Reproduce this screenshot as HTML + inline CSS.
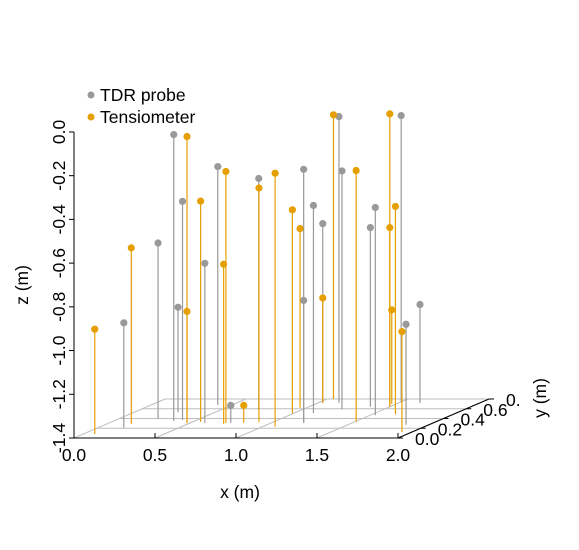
<!DOCTYPE html>
<html><head><meta charset="utf-8"><style>
html,body{margin:0;padding:0;background:#fff;}
svg{display:block;font-family:"Liberation Sans",Arial,sans-serif;}
</style></head><body>
<svg id="chart" width="579" height="550" viewBox="0 0 579 550">
<g id="grid"></g>
<g id="axes"></g>
<g id="marks"></g>
<g>
<circle cx="91" cy="95" r="3.5" fill="#999999"/>
<text x="100" y="101" font-size="17.5">TDR probe</text>
<circle cx="91" cy="117" r="3.5" fill="#E69F00"/>
<text x="100" y="123" font-size="17.5">Tensiometer</text>
</g>
<text x="240" y="498" font-size="17.5" text-anchor="middle">x (m)</text>
<text transform="translate(28,285) rotate(-90)" font-size="17.5" text-anchor="middle">z (m)</text>
<text transform="translate(546,398) rotate(-90)" font-size="17.5" text-anchor="middle">y (m)</text>
</svg>
<script>
const xTicks = [0, 0.5, 1, 1.5, 2];
const xTickLabels = ["0.0", "0.5", "1.0", "1.5", "2.0"];
const yTicks = [0, 0.2, 0.4, 0.6, 0.8];
const yTickLabels = ["0.0", "0.2", "0.4", "0.6", "0."];
const zTicks = [0, -0.2, -0.4, -0.6, -0.8, -1.0, -1.2, -1.4];
const zTickLabels = ["0.0", "-0.2", "-0.4", "-0.6", "-0.8", "-1.0", "-1.2", "-1.4"];
const tdrX = [0.16, 0.245, 0.37, 0.41, 0.27, 0.59, 0.41, 0.75, 0.74, 1.20, 1.20, 1.12, 1.03, 1.13, 1.24, 1.38, 1.53, 1.50, 1.63, 1.86];
const tdrY = [0.21, 0.39, 0.35, 0.37, 0.53, 0.31, 0.68, 0.31, 0.57, 0.31, 0.31, 0.51, 0.72, 0.72, 0.59, 0.64, 0.47, 0.74, 0.72, 0.27];
const tdrZ = [-0.92, -0.595, -0.09, -0.40, -0.92, -0.67, -0.31, -1.32, -0.34, -0.24, -0.84, -0.45, -0.58, -0.09, -0.31, -0.58, -0.45, -0.09, -0.95, -0.94];
const tenX = [0.072, 0.15, 0.48, 0.48, 0.55, 0.72, 0.72, 0.83, 0.91, 1.08, 0.99, 0.96, 1.03, 1.04, 1.51, 1.50, 1.50, 1.64, 1.47, 1.94];
const tenY = [0.08, 0.29, 0.31, 0.31, 0.33, 0.29, 0.31, 0.31, 0.33, 0.23, 0.51, 0.62, 0.72, 0.80, 0.33, 0.64, 0.64, 0.49, 0.70, 0.12];
const tenZ = [-0.92, -0.595, -0.09, -0.89, -0.39, -0.67, -0.25, -1.32, -0.33, -0.24, -0.47, -0.58, -0.92, -0.10, -0.25, -0.06, -0.58, -0.45, -0.97, -0.94];

const NS = "http://www.w3.org/2000/svg";
const X0 = 74, Y0 = 438, XS = 162, DX = 113.75, DY = -48.75, ZS = 218.6, ZMIN = -1.4;
function px(x, y) { return X0 + x * XS + y * DX; }
function pyFloor(y) { return Y0 + y * DY; }
function pz(y, z) { return pyFloor(y) - (z - ZMIN) * ZS; }
function mk(tag, attrs, parent) {
  const e = document.createElementNS(NS, tag);
  for (const k in attrs) e.setAttribute(k, attrs[k]);
  parent.appendChild(e);
  return e;
}
const grid = document.getElementById('grid');
const axes = document.getElementById('axes');
const marks = document.getElementById('marks');

yTicks.forEach((y, i) => {
  const l = mk('line', {x1: px(0, y), y1: pyFloor(y), x2: px(2, y), y2: pyFloor(y), stroke: '#bebebe', 'stroke-width': 1}, grid);
  
  
});
xTicks.forEach((x, i) => {
  const l = mk('line', {x1: px(x, 0), y1: pyFloor(0), x2: px(x, 0.8), y2: pyFloor(0.8), stroke: '#bebebe', 'stroke-width': 1}, grid);
  
  
});

let a = mk('line', {x1: px(0,0), y1: Y0, x2: px(2,0), y2: Y0, stroke: '#000'}, axes);


xTicks.forEach((x, i) => {
  const t = mk('line', {x1: px(x,0), y1: Y0 - 5, x2: px(x,0), y2: Y0, stroke: '#000'}, axes);
  
  
  const tx = mk('text', {x: px(x,0), y: Y0 + 23, 'font-size': 17.5, 'text-anchor': 'middle'}, axes);
  tx.textContent = xTickLabels[i];
  
  
});
a = mk('line', {x1: X0, y1: pz(0, 0), x2: X0, y2: pz(0, ZMIN), stroke: '#000'}, axes);


zTicks.forEach((z, i) => {
  const yy = pz(0, z);
  const t = mk('line', {x1: X0 - 5, y1: yy, x2: X0, y2: yy, stroke: '#000'}, axes);
  
  
  const tx = mk('text', {transform: 'translate(' + (X0 - 9) + ',' + yy + ') rotate(-90)', 'font-size': 17.5, 'text-anchor': 'middle'}, axes);
  tx.textContent = zTickLabels[i];
  
  
});
a = mk('line', {x1: px(2,0), y1: pyFloor(0), x2: px(2,0.8), y2: pyFloor(0.8), stroke: '#000'}, axes);


yTicks.forEach((y, i) => {
  const t = mk('line', {x1: px(2,y), y1: pyFloor(y), x2: px(2,y) + 5, y2: pyFloor(y), stroke: '#000'}, axes);
  
  
  const tx = mk('text', {x: px(2,y) + 17, y: pyFloor(y) + 7, 'font-size': 17.5, 'text-anchor': 'start'}, axes);
  tx.textContent = yTickLabels[i];
  
  
});

function drawSeries(xs, ys, zs, color, name) {
  xs.forEach((x, i) => {
    const sx = px(x, ys[i]);
    const s = mk('line', {x1: sx, y1: pyFloor(ys[i]), x2: sx, y2: pz(ys[i], zs[i]), stroke: color, 'stroke-width': 1.2}, marks);
    
    
  });
  xs.forEach((x, i) => {
    const c = mk('circle', {cx: px(x, ys[i]), cy: pz(ys[i], zs[i]), r: 3.6, fill: color}, marks);
    
    
  });
}
drawSeries(tdrX, tdrY, tdrZ, '#999999', 'tdr-probe');
drawSeries(tenX, tenY, tenZ, '#E69F00', 'tensiometer');
</script>
</body></html>
